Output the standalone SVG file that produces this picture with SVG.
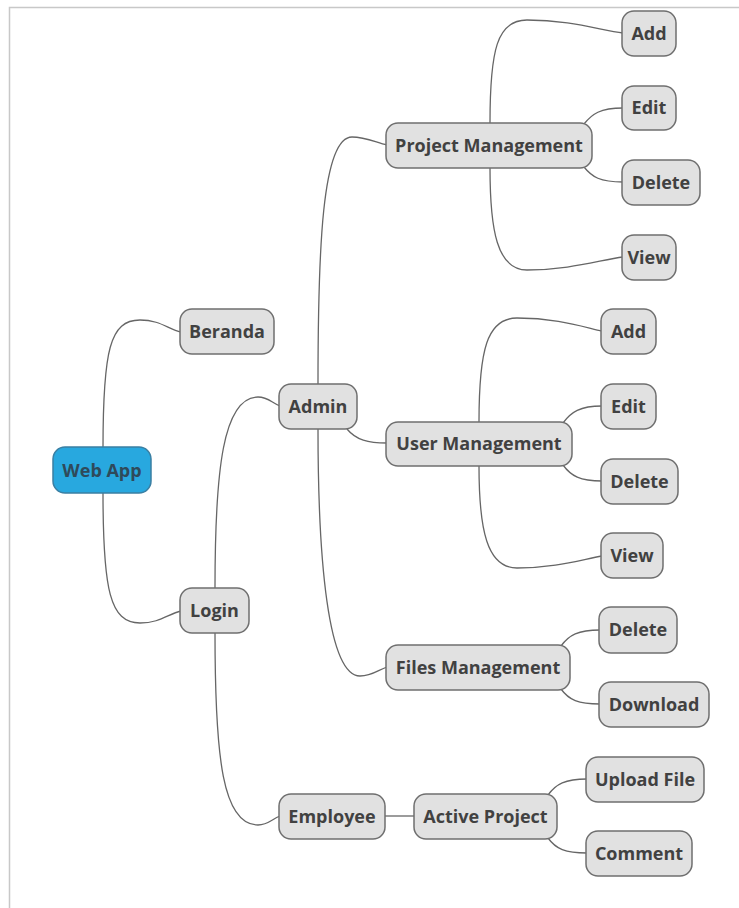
<svg xmlns="http://www.w3.org/2000/svg" width="739" height="908" viewBox="0 0 739 908">
<style>
.n rect{fill:#e1e1e1;stroke:#6f6f6f;stroke-width:1.5}
.n text{font-family:"Open Sans","Noto Sans",sans-serif;font-weight:bold;font-size:18px;fill:#414141;text-anchor:middle}
#webapp rect{fill:#28a8df;stroke:#3a7fa3}
#webapp text{fill:#2f4a5a}
.c path{fill:none;stroke:#666;stroke-width:1.3}
</style>
<rect x="0" y="0" width="739" height="908" fill="#fff"/>
<path d="M9.5,908 V7.5 H739" fill="none" stroke="#c8c8c8" stroke-width="1.5"/>
<g class="c">
<path d="M103,448 C103,350 110,320 140,320 C160,320 168,329 181,332"/>
<path d="M103,493 C103,590 110,623 140,623 C160,623 168,614 181,611"/>
<path d="M215,588 C215,470 223,397 258,397 C268,397 272,403 280,406"/>
<path d="M215,633 C215,760 223,825 258,825 C268,825 272,819 280,816"/>
<path d="M318,384 C318,250 322,137 352,137 C365,137 375,142 387,145"/>
<path d="M318,429 C318,560 328,676 360,676 C372,676 378,670 387,667"/>
<path d="M347,429 C356,440 368,443 387,443"/>
<path d="M490,123 C490,50 497,20 527,20 C570,20 600,30 623,33"/>
<path d="M490,168 C490,230 497,270 527,270 C570,270 600,260 623,257"/>
<path d="M584,124 C592,114 600,108 623,108"/>
<path d="M584,167 C592,177 600,182 623,182"/>
<path d="M479,422 C479,350 487,318 517,318 C555,318 580,326 602,331"/>
<path d="M479,466 C479,530 487,568 517,568 C555,568 580,560 602,556"/>
<path d="M563,423 C571,412 580,406 602,406"/>
<path d="M563,465 C571,476 580,481 602,481"/>
<path d="M561,646 C569,635 578,630 600,630"/>
<path d="M561,689 C569,700 578,704 600,704"/>
<path d="M385,816 H415"/>
<path d="M548,795 C556,784 565,779 587,779"/>
<path d="M548,838 C556,849 565,853 587,853"/>
</g>
<g id="webapp" class="n"><rect x="53" y="447" width="98" height="46" rx="12"/><text x="102" y="476.5">Web App</text></g>
<g id="beranda" class="n"><rect x="180" y="309" width="94" height="45" rx="12"/><text x="227" y="338">Beranda</text></g>
<g id="login" class="n"><rect x="180" y="588" width="69" height="45" rx="12"/><text x="214.5" y="617">Login</text></g>
<g id="admin" class="n"><rect x="279" y="384" width="78" height="45" rx="12"/><text x="318" y="413">Admin</text></g>
<g id="employee" class="n"><rect x="279" y="794" width="106" height="45" rx="12"/><text x="332" y="823">Employee</text></g>
<g id="project-management" class="n"><rect x="386" y="123" width="206" height="45" rx="12"/><text x="489" y="152">Project Management</text></g>
<g id="pm-add" class="n"><rect x="622" y="11" width="54" height="45" rx="12"/><text x="649" y="40">Add</text></g>
<g id="pm-edit" class="n"><rect x="622" y="86" width="54" height="44" rx="12"/><text x="649" y="114">Edit</text></g>
<g id="pm-delete" class="n"><rect x="622" y="160" width="78" height="45" rx="12"/><text x="661" y="189">Delete</text></g>
<g id="pm-view" class="n"><rect x="622" y="235" width="54" height="45" rx="12"/><text x="649" y="264">View</text></g>
<g id="user-management" class="n"><rect x="386" y="422" width="186" height="44" rx="12"/><text x="479" y="450">User Management</text></g>
<g id="um-add" class="n"><rect x="601" y="309" width="55" height="45" rx="12"/><text x="628.5" y="338">Add</text></g>
<g id="um-edit" class="n"><rect x="601" y="384" width="55" height="45" rx="12"/><text x="628.5" y="413">Edit</text></g>
<g id="um-delete" class="n"><rect x="601" y="459" width="77" height="45" rx="12"/><text x="639.5" y="488">Delete</text></g>
<g id="um-view" class="n"><rect x="601" y="533" width="62" height="45" rx="12"/><text x="632" y="562">View</text></g>
<g id="files-management" class="n"><rect x="386" y="645" width="184" height="45" rx="12"/><text x="478" y="674">Files Management</text></g>
<g id="fm-delete" class="n"><rect x="599" y="607" width="78" height="46" rx="12"/><text x="638" y="636">Delete</text></g>
<g id="fm-download" class="n"><rect x="599" y="682" width="110" height="45" rx="12"/><text x="654" y="711">Download</text></g>
<g id="active-project" class="n"><rect x="414" y="794" width="143" height="45" rx="12"/><text x="485.5" y="823">Active Project</text></g>
<g id="upload-file" class="n"><rect x="586" y="757" width="118" height="45" rx="12"/><text x="645" y="786">Upload File</text></g>
<g id="comment" class="n"><rect x="586" y="831" width="106" height="45" rx="12"/><text x="639" y="860">Comment</text></g>
</svg>
